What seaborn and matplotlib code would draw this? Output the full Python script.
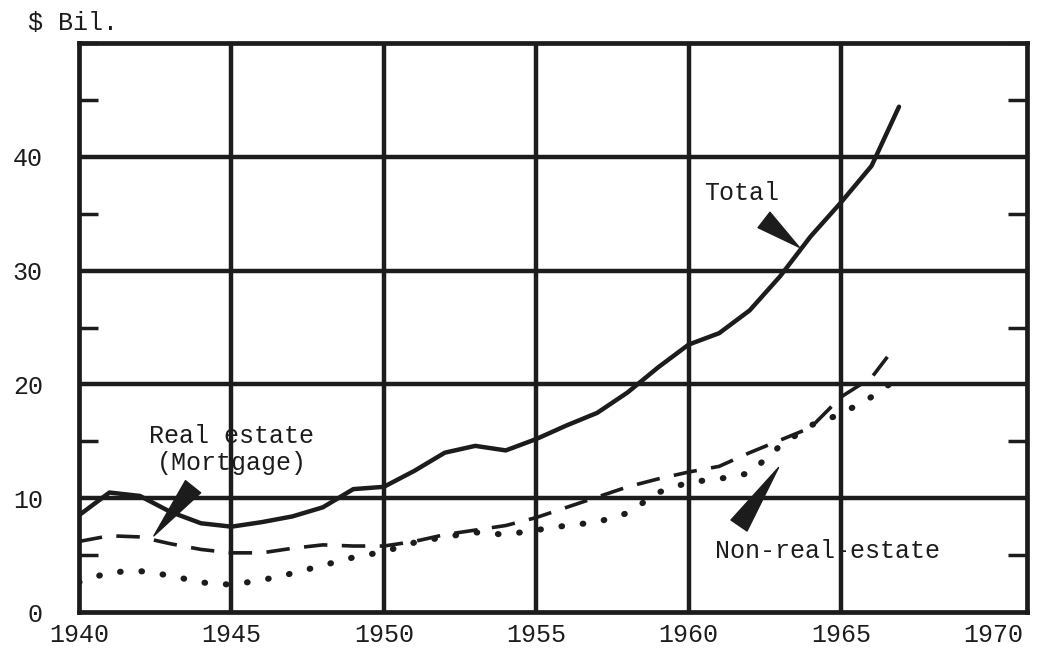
import numpy as np
import pandas as pd
import matplotlib
matplotlib.use("Agg")
import matplotlib.pyplot as plt
import seaborn as sns
from matplotlib.ticker import MultipleLocator

# ----------------------------------------------------------
# DATA ($ billions)
# ----------------------------------------------------------
total_years = [1940, 1941, 1942, 1943, 1944, 1945, 1946, 1947, 1948, 1949,
               1950, 1951, 1952, 1953, 1954, 1955, 1956, 1957, 1958, 1959,
               1960, 1961, 1962, 1963, 1964, 1965, 1966, 1966.9]
total_vals = [8.5, 10.5, 10.2, 8.8, 7.8, 7.5, 7.9, 8.4, 9.2, 10.8,
              11.0, 12.4, 14.0, 14.6, 14.2, 15.2, 16.4, 17.5, 19.3, 21.5,
              23.5, 24.5, 26.5, 29.5, 33.0, 36.0, 39.2, 44.4]

real_years = [1940, 1941, 1942, 1943, 1944, 1945, 1946, 1947, 1948, 1949,
              1950, 1951, 1952, 1953, 1954, 1955, 1956, 1957, 1958, 1959,
              1960, 1961, 1962, 1963, 1964, 1965, 1966, 1966.8]
real_vals = [6.2, 6.7, 6.6, 6.0, 5.5, 5.2, 5.2, 5.6, 5.9, 5.8,
             5.8, 6.2, 6.8, 7.2, 7.6, 8.3, 9.2, 10.1, 11.0, 11.7,
             12.3, 12.8, 14.0, 15.1, 16.2, 18.9, 20.6, 23.4]

nonreal_years = [1940, 1941, 1942, 1943, 1944, 1945, 1946, 1947, 1948, 1949,
                 1950, 1951, 1952, 1953, 1954, 1955, 1956, 1957, 1958, 1959,
                 1960, 1961, 1962, 1963, 1964, 1965, 1966, 1966.9]
nonreal_vals = [2.6, 3.5, 3.6, 3.2, 2.6, 2.4, 2.8, 3.4, 4.1, 4.8,
                5.3, 6.1, 6.6, 7.0, 6.8, 7.2, 7.6, 7.9, 8.7, 10.5,
                11.4, 11.7, 12.2, 14.6, 16.4, 17.4, 18.9, 20.6]

x_ticks = [1940, 1945, 1950, 1955, 1960, 1965, 1970]
y_ticks = [0, 10, 20, 30, 40]

# ----------------------------------------------------------
# STYLE
# ----------------------------------------------------------
sns.set_style("white")
plt.rcParams["font.family"] = ["Liberation Mono", "DejaVu Sans Mono"]
ink = "#1c1c1c"
fs = 18

fig = plt.figure(figsize=(10.43, 6.55), dpi=100)
ax = fig.add_axes([0.0757, 0.0656, 0.9090, 0.8688])

# ----------------------------------------------------------
# LINES
# ----------------------------------------------------------
sns.lineplot(x=total_years, y=total_vals, ax=ax, color=ink, lw=3.2,
             solid_capstyle="round", solid_joinstyle="round")
sns.lineplot(x=real_years, y=real_vals, ax=ax, color=ink, lw=2.6,
             linestyle=(0, (6.5, 4)))
sns.lineplot(x=nonreal_years, y=nonreal_vals, ax=ax, color=ink, lw=4.4,
             linestyle=(0, (0.1, 3.4)), dash_capstyle="round")

# ----------------------------------------------------------
# AXES / GRID
# ----------------------------------------------------------
ax.set_xlim(1940, 1971.1)
ax.set_ylim(0, 50)
ax.set_xticks(x_ticks)
ax.set_yticks(y_ticks)
ax.xaxis.set_minor_locator(MultipleLocator(1))
ax.yaxis.set_minor_locator(MultipleLocator(5))

ax.grid(True, which="major", color=ink, lw=3.2)
for gl, xv in zip(ax.xaxis.get_gridlines(), x_ticks):
    if xv in (1940, 1970):
        gl.set_visible(False)
for gl, yv in zip(ax.yaxis.get_gridlines(), y_ticks):
    if yv == 0:
        gl.set_visible(False)
ax.set_axisbelow(True)

for sp in ax.spines.values():
    sp.set_color(ink)
    sp.set_linewidth(3.4)

ax.tick_params(axis="x", which="major", direction="in", length=15, width=3,
               color=ink, labelsize=fs, labelcolor=ink, pad=8)
ax.tick_params(axis="x", which="minor", direction="in", length=9, width=2.5,
               color=ink)
ax.tick_params(axis="y", which="major", direction="in", length=0,
               labelsize=fs, labelcolor=ink, pad=26)
ax.tick_params(axis="y", which="minor", direction="in", length=14, width=2.5,
               color=ink, left=True, right=True)
ax.set_xlabel("")
ax.set_ylabel("")

# ----------------------------------------------------------
# LABELS AND POINTERS
# ----------------------------------------------------------
fig.text(0.027, 0.965, "$ Bil.", fontsize=fs, color=ink, va="center")

ax.text(1960.5, 36.8, "Total", fontsize=fs, color=ink, va="center")
ax.text(1945.0, 14.3, "Real estate\n(Mortgage)", fontsize=fs, color=ink,
        ha="center", va="center", linespacing=1.15)
ax.text(1960.85, 5.4, "Non-real-estate", fontsize=fs, color=ink, va="center")

wedge = dict(arrowstyle="wedge,tail_width=1.4,shrink_factor=0.5",
             fc=ink, ec=ink)
ax.annotate("", xy=(1963.7, 31.9), xytext=(1962.4, 34.6),
            arrowprops=wedge)
ax.annotate("", xy=(1942.4, 6.5), xytext=(1943.8, 11.2),
            arrowprops=wedge)
ax.annotate("", xy=(1963.0, 12.9), xytext=(1961.6, 7.4),
            arrowprops=wedge)

plt.savefig("out.png", dpi=100, facecolor="white")
